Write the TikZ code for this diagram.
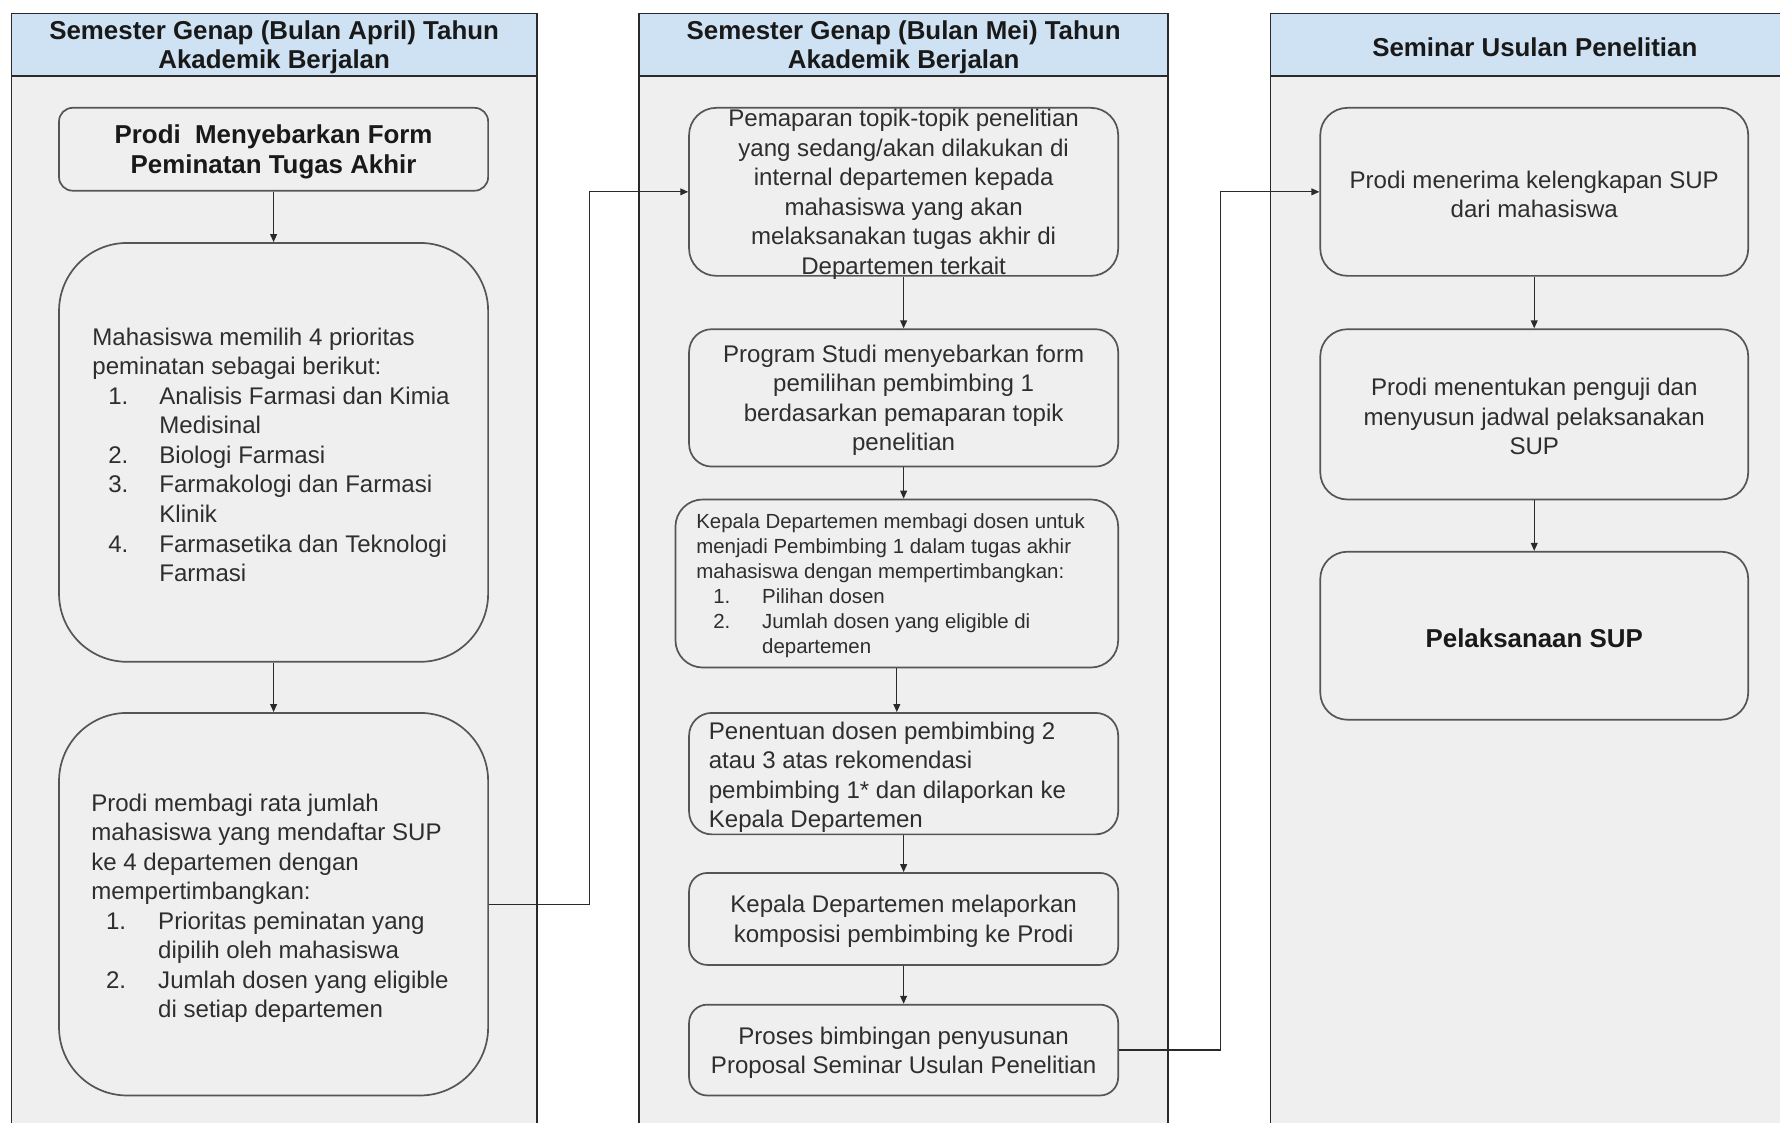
\documentclass[tikz,border=0pt]{standalone}
\usepackage{fontspec}
\setmainfont{Liberation Sans}
\usetikzlibrary{fit,arrows.meta}
\definecolor{headfill}{HTML}{CFE2F3}
\definecolor{bodyfill}{HTML}{EFEFEF}
\definecolor{boxline}{HTML}{555555}
\definecolor{txtcol}{HTML}{2E2E2E}
\definecolor{laneline}{HTML}{2A2A2A}
\newcommand{\bodyfont}{\fontsize{10.6pt}{13pt}\selectfont}
\newcommand{\boldfont}{\fontsize{11.4pt}{13pt}\selectfont\bfseries}
\newcommand{\smallbodyfont}{\fontsize{9pt}{11pt}\selectfont}
\tikzset{
  lanebody/.style={draw=laneline, fill=bodyfill, line width=0.6pt, inner sep=0pt},
  lanehead/.style={draw=laneline, fill=headfill, line width=0.6pt, inner sep=0pt,
    font=\boldfont, align=center, text=black},
  box/.style={draw=boxline, fill=bodyfill, line width=0.75pt, inner sep=0pt},
  txt/.style={inner sep=0pt, text=txtcol, font=\bodyfont, yshift=-1.1pt},
  boldtxt/.style={inner sep=0pt, text=black!90, font=\boldfont, align=center, yshift=-1.1pt},
  conn/.style={draw=laneline, line width=0.55pt, -{Triangle[length=3.5pt,width=3pt]}},
}
\begin{document}
\begin{tikzpicture}[x=0.5pt,y=-0.5pt]
\useasboundingbox (0,0) rectangle (1568,989);
\clip (0,0) rectangle (1568,989);
\fill[white] (0,0) rectangle (1568,989);

% lanes
\node[lanebody, fit={(10,12)(473,1000)}] (l1) {};
\node[lanebody, fit={(563,12)(1029,1000)}] (l2) {};
\node[lanebody, fit={(1119,12)(1580,1000)}] (l3) {};
\node[lanehead, fit={(10,12)(473,67)}] (h1) {};
\node[lanehead, fit={(563,12)(1029,67)}] (h2) {};
\node[lanehead, fit={(1119,12)(1580,67)}] (h3) {};
\node[boldtxt] (h1t) at (241.5,39.5) {Semester Genap (Bulan April) Tahun\\Akademik Berjalan};
\node[boldtxt] (h2t) at (796,39.5) {Semester Genap (Bulan Mei) Tahun\\Akademik Berjalan};
\node[boldtxt] (h3t) at (1352,39.5) {Seminar Usulan Penelitian};

% lane 1 boxes
\node[box, rounded corners=6pt, fit={(52,95)(430,168)}] (b1) {};
\node[box, rounded corners=30pt, fit={(52,214)(430,583)}] (b2) {};
\node[box, rounded corners=30pt, fit={(52,628)(430,965)}] (b3) {};

% lane 2 boxes
\node[box, rounded corners=12pt, fit={(607,95)(985,243)}] (c1) {};
\node[box, rounded corners=10pt, fit={(607,290)(985,411)}] (c2) {};
\node[box, rounded corners=12pt, fit={(595,440)(985,588)}] (c3) {};
\node[box, rounded corners=10pt, fit={(607,628)(985,735)}] (c4) {};
\node[box, rounded corners=8pt, fit={(607,769)(985,850)}] (c5) {};
\node[box, rounded corners=8pt, fit={(607,885)(985,965)}] (c6) {};

% lane 3 boxes
\node[box, rounded corners=12pt, fit={(1163,95)(1540,243)}] (d1) {};
\node[box, rounded corners=12pt, fit={(1163,290)(1540,440)}] (d2) {};
\node[box, rounded corners=12pt, fit={(1163,486)(1540,634)}] (d3) {};

% texts
\node[boldtxt] (b1t) at (b1.center) {Prodi\ \ Menyebarkan Form\\Peminatan Tugas Akhir};
\node[txt, anchor=west, align=left] (b2t) at (81,398.5) {%
Mahasiswa memilih 4 prioritas\\
peminatan sebagai berikut:\\
\hspace*{7pt}\makebox[22.5pt][l]{1.}Analisis Farmasi dan Kimia\\
\hspace*{29.5pt}Medisinal\\
\hspace*{7pt}\makebox[22.5pt][l]{2.}Biologi Farmasi\\
\hspace*{7pt}\makebox[22.5pt][l]{3.}Farmakologi dan Farmasi\\
\hspace*{29.5pt}Klinik\\
\hspace*{7pt}\makebox[22.5pt][l]{4.}Farmasetika dan Teknologi\\
\hspace*{29.5pt}Farmasi};
\node[txt, anchor=west, align=left] (b3t) at (80,798) {%
Prodi membagi rata jumlah\\
mahasiswa yang mendaftar SUP\\
ke 4 departemen dengan\\
mempertimbangkan:\\
\hspace*{6.5pt}\makebox[23pt][l]{1.}Prioritas peminatan yang\\
\hspace*{29.5pt}dipilih oleh mahasiswa\\
\hspace*{6.5pt}\makebox[23pt][l]{2.}Jumlah dosen yang eligible\\
\hspace*{29.5pt}di setiap departemen};

\node[txt, align=center] (c1t) at (c1.center) {Pemaparan topik-topik penelitian\\
yang sedang/akan dilakukan di\\
internal departemen kepada\\
mahasiswa yang akan\\
melaksanakan tugas akhir di\\
Departemen terkait};
\node[txt, align=center] (c2t) at (c2.center) {Program Studi menyebarkan form\\
pemilihan pembimbing 1\\
berdasarkan pemaparan topik\\
penelitian};
\node[txt, font=\smallbodyfont, anchor=west, align=left] (c3t) at (613,513.5) {%
Kepala Departemen membagi dosen untuk\\
menjadi Pembimbing 1 dalam tugas akhir\\
mahasiswa dengan mempertimbangkan:\\
\hspace*{7.5pt}\makebox[21.5pt][l]{1.}Pilihan dosen\\
\hspace*{7.5pt}\makebox[21.5pt][l]{2.}Jumlah dosen yang eligible di\\
\hspace*{29pt}departemen};
\node[txt, anchor=west, align=left] (c4t) at (624,682.5) {%
Penentuan dosen pembimbing 2\\
atau 3 atas rekomendasi\\
pembimbing 1* dan dilaporkan ke\\
Kepala Departemen};
\node[txt, align=center] (c5t) at (c5.center) {Kepala Departemen melaporkan\\
komposisi pembimbing ke Prodi};
\node[txt, align=center] (c6t) at (c6.center) {Proses bimbingan penyusunan\\
Proposal Seminar Usulan Penelitian};

\node[txt, align=center] (d1t) at (d1.center) {Prodi menerima kelengkapan SUP\\
dari mahasiswa};
\node[txt, align=center] (d2t) at (d2.center) {Prodi menentukan penguji dan\\
menyusun jadwal pelaksanakan\\
SUP};
\node[boldtxt] (d3t) at (d3.center) {Pelaksanaan SUP};

% connectors
\coordinate (j1) at (519,0);
\coordinate (j2) at (1075,0);
\draw[conn] (b1.south) -- (b2.north);
\draw[conn] (b2.south) -- (b3.north);
\draw[conn] (b3.east) -- (b3.east -| j1) -- (j1 |- c1.west) -- (c1.west);
\draw[conn] (c1.south) -- (c2.north);
\draw[conn] (c2.south) -- (c2.south |- c3.north);
\draw[conn] (c3.south) -- (c3.south |- c4.north);
\draw[conn] (c4.south) -- (c5.north);
\draw[conn] (c5.south) -- (c6.north);
\draw[conn] (c6.east) -- (c6.east -| j2) -- (j2 |- d1.west) -- (d1.west);
\draw[conn] (d1.south) -- (d2.north);
\draw[conn] (d2.south) -- (d3.north);
\end{tikzpicture}
\end{document}
